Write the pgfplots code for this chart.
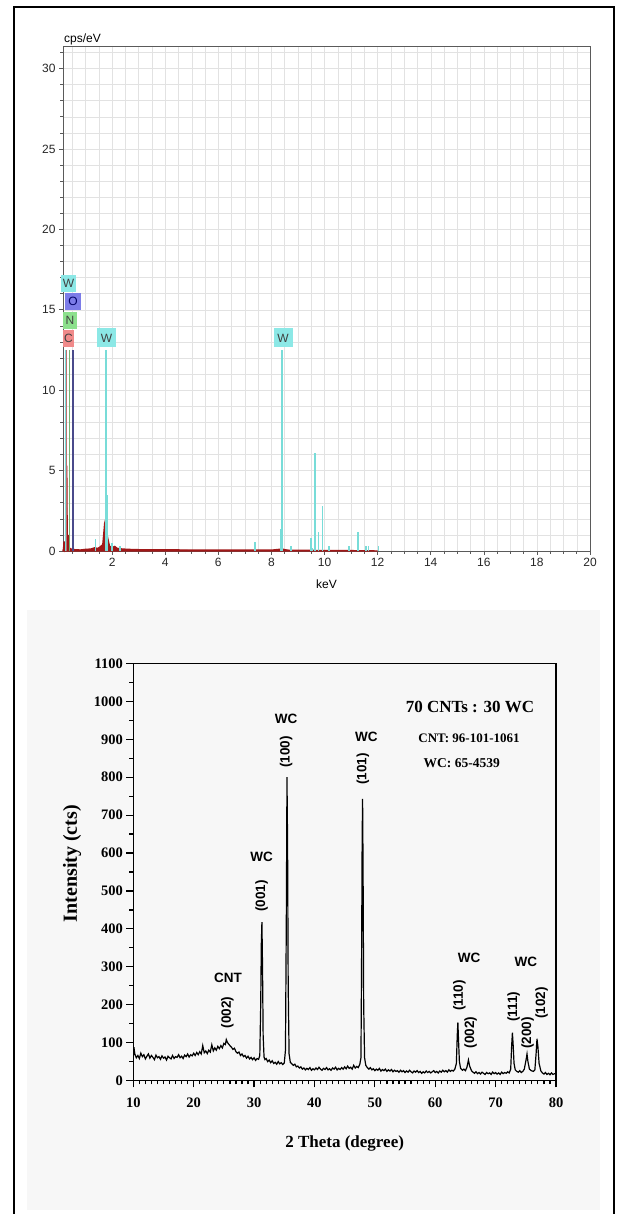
\documentclass[border=0pt]{standalone}
\usepackage{fontspec}
\setmainfont{Liberation Serif}
\newfontfamily\arialfont{Liberation Sans}
\usepackage{pgfplots}
\usepackage{pgfplotstable}
\pgfplotsset{compat=1.18}

\definecolor{wcyan}{HTML}{78DCD8}
\definecolor{wbox}{HTML}{8CE8E6}
\definecolor{obox}{HTML}{7C7CE8}
\definecolor{nbox}{HTML}{8CE08C}
\definecolor{cbox}{HTML}{F08A8A}
\definecolor{specred}{HTML}{A01818}
\definecolor{gridgray}{HTML}{E2E2E2}
\definecolor{axgray}{HTML}{5A5A5A}

% XRD pattern, 2theta vs counts
\pgfplotstableread{
x y
10.00 62
10.10 88
10.25 70
10.50 60
10.75 66
11.00 58
11.25 72
11.50 63
11.75 68
12.00 57
12.25 64
12.50 70
12.75 59
13.00 66
13.25 61
13.50 55
13.75 67
14.00 60
14.25 63
14.50 56
14.75 65
15.00 59
15.25 62
15.50 54
15.75 64
16.00 60
16.25 57
16.50 66
16.75 58
17.00 63
17.25 61
17.50 68
17.75 60
18.00 64
18.25 58
18.50 67
18.75 63
19.00 70
19.25 62
19.50 68
19.75 65
20.00 72
20.25 66
20.50 74
20.75 68
21.00 76
21.25 70
21.50 92
21.75 73
22.00 78
22.25 71
22.50 80
22.75 75
23.00 94
23.25 78
23.50 86
23.75 80
24.00 90
24.25 84
24.50 92
24.75 86
25.00 98
25.25 95
25.40 108
25.60 100
25.80 96
26.00 92
26.25 88
26.50 82
26.75 85
27.00 76
27.25 72
27.50 75
27.75 66
28.00 70
28.25 63
28.50 66
28.75 59
29.00 64
29.25 57
29.50 61
29.75 55
30.00 60
30.25 53
30.50 58
30.75 56
30.95 66
31.10 200
31.20 360
31.30 418
31.40 300
31.50 120
31.65 62
31.80 55
32.00 58
32.25 50
32.50 54
32.75 47
33.00 52
33.25 45
33.50 48
33.75 43
34.00 50
34.25 44
34.50 47
34.75 42
35.00 46
35.20 80
35.35 450
35.45 800
35.55 620
35.65 250
35.80 70
36.00 48
36.25 44
36.50 40
36.75 43
37.00 36
37.25 38
37.50 33
37.75 36
38.00 30
38.25 33
38.50 28
38.75 32
39.00 29
39.25 34
39.50 27
39.75 31
40.00 28
40.25 33
40.50 29
40.75 35
41.00 30
41.25 27
41.50 32
41.75 29
42.00 34
42.25 28
42.50 31
42.75 27
43.00 33
43.25 30
43.50 35
43.75 28
44.00 32
44.25 29
44.50 34
44.75 30
45.00 36
45.25 31
45.50 38
45.75 32
46.00 35
46.25 30
46.50 40
46.75 33
47.00 37
47.25 34
47.50 42
47.70 60
47.80 300
47.90 640
47.97 743
48.05 560
48.15 200
48.30 60
48.50 40
48.75 34
49.00 30
49.25 34
49.50 28
49.75 31
50.00 26
50.25 30
50.50 27
50.75 32
51.00 25
51.25 29
51.50 26
51.75 30
52.00 24
52.25 28
52.50 25
52.75 29
53.00 23
53.25 27
53.50 24
53.75 26
54.00 22
54.25 27
54.50 23
54.75 26
55.00 21
55.25 25
55.50 22
55.75 27
56.00 23
56.25 20
56.50 25
56.75 22
57.00 26
57.25 21
57.50 24
57.75 19
58.00 23
58.25 20
58.50 25
58.75 21
59.00 24
59.25 20
59.50 23
59.75 26
60.00 21
60.25 24
60.50 20
60.75 25
61.00 22
61.25 27
61.50 23
61.75 26
62.00 22
62.25 28
62.50 24
62.75 27
63.00 25
63.25 30
63.50 45
63.65 120
63.75 153
63.85 110
64.00 50
64.20 32
64.50 27
64.75 30
65.00 26
65.25 35
65.50 54
65.70 38
66.00 26
66.25 22
66.50 19
66.75 23
67.00 18
67.25 21
67.50 17
67.75 22
68.00 19
68.25 16
68.50 21
68.75 18
69.00 20
69.25 16
69.50 22
69.75 18
70.00 21
70.25 17
70.50 20
70.75 16
71.00 22
71.25 18
71.50 21
71.75 19
72.00 23
72.25 20
72.50 30
72.65 90
72.78 126
72.90 95
73.05 45
73.25 28
73.50 24
73.75 22
74.00 26
74.25 21
74.50 24
74.75 30
75.05 55
75.20 70
75.35 50
75.60 30
75.90 26
76.25 24
76.50 28
76.70 70
76.85 110
77.00 90
77.20 45
77.50 25
77.75 20
78.00 17
78.25 21
78.50 16
78.75 19
79.00 15
79.25 20
79.50 16
79.75 18
80.00 17
}\xrd

\newcommand\edsfont{\arialfont\fontsize{12}{12}\selectfont}
\newcommand\pk{\arialfont\bfseries\fontsize{13.5}{13.5}\selectfont}

\begin{document}
\begin{tikzpicture}[x=1pt,y=1pt]
\path[use as bounding box] (0pt,0pt) rectangle (618pt,1214pt);
\fill[black!3] (27pt,4pt) rectangle (600pt,604pt);
\draw[line width=2pt] (14pt,0pt) -- (14pt,1207pt) -- (614pt,1207pt) -- (614pt,0pt);

% ---------- EDS spectrum ----------
\begin{axis}[
    at={(63pt,663pt)}, anchor=south west,
    scale only axis, width=527pt, height=505pt,
    xmin=0.15, xmax=20, ymin=0, ymax=31.4,
    xtick={2,4,...,20}, minor xtick={0.5,1,...,19.5},
    ytick={0,5,...,30}, minor ytick={1,2,...,31},
    tick pos=left, tick align=outside,
    major tick length=4pt, minor tick length=3pt,
    grid=both, major grid style={gridgray}, minor grid style={gridgray},
    tick style={axgray, line width=0.6pt},
    axis line style={axgray, line width=0.8pt},
    tick label style={font=\edsfont, text=black!85},
    /pgf/number format/assume math mode=true,
    xlabel={keV}, xlabel style={font=\edsfont, at={(axis description cs:0.5,-0.065)}, anchor=center},
    clip=false,
]
% spectrum (dark red)
\addplot[specred, line width=1.4pt, fill=specred] coordinates {
 (0.15,0.05) (0.17,0.1) (0.19,0.6) (0.21,0.1) (0.26,0.3) (0.29,5.3) (0.31,0.4) (0.34,1.0) (0.37,0.2)
 (0.45,0.12) (0.6,0.08) (0.8,0.06) (1.0,0.1) (1.2,0.12) (1.35,0.2) (1.45,0.15) (1.55,0.25)
 (1.65,0.4) (1.72,1.7) (1.77,2.05) (1.82,0.9) (1.9,0.3) (2.0,0.22) (2.1,0.28) (2.2,0.15)
 (2.4,0.12) (2.6,0.1) (3.0,0.08) (4.0,0.07) (5.0,0.06) (6.0,0.06) (7.0,0.05) (8.0,0.05)
 (8.4,0.12) (8.6,0.05) (9.0,0.04) (10.0,0.03) (11.0,0.02) (12.0,0.0)
} \closedcycle;
% W peaks (cyan)
\addplot[ycomb, wcyan, line width=1.6pt] coordinates {
 (1.38,0.75) (1.83,3.5) (2.0,0.5) (2.3,0.3) (7.38,0.55) (8.35,1.35) (8.74,0.3)
 (9.49,0.8) (9.55,0.2) (9.65,6.1) (9.78,1.2) (9.93,2.8) (10.17,0.3) (10.93,0.3)
 (11.26,1.15) (11.57,0.3) (11.65,0.3) (12.03,0.3)
};
% element marker lines
\addplot[ycomb, wcyan, line width=1.4pt] coordinates {(0.24,12.5) (1.775,12.5) (8.396,12.5)};
\addplot[ycomb, cbox!80!black, line width=1.1pt] coordinates {(0.277,12.5)};
\addplot[ycomb, nbox!80!black, line width=1.1pt] coordinates {(0.392,12.5)};
\addplot[ycomb, obox!60!black, line width=1.1pt] coordinates {(0.525,12.5)};
\tikzset{el/.style={font=\edsfont, inner sep=1.5pt, minimum height=17pt, text=black!75}}
\node[el, fill=wbox, minimum width=11pt] at (axis cs:0.36,16.65) {W};
\node[el, fill=obox, minimum width=16pt, text=blue!40!black] at (axis cs:0.53,15.5) {O};
\node[el, fill=nbox, minimum width=14pt] at (axis cs:0.41,14.35) {N};
\node[el, fill=cbox, minimum width=11pt] at (axis cs:0.36,13.2) {C};
\node[el, fill=wbox, minimum width=19pt, minimum height=19pt] at (axis cs:1.79,13.25) {W};
\node[el, fill=wbox, minimum width=19pt, minimum height=19pt] at (axis cs:8.44,13.25) {W};
\node[font=\edsfont, anchor=south west, inner sep=1pt] at (rel axis cs:0,1) {cps/eV};
\end{axis}

% ---------- XRD pattern ----------
\begin{axis}[
    at={(133.3pt,133.5pt)}, anchor=south west,
    scale only axis, width=422.7pt, height=417pt,
    xmin=10, xmax=80, ymin=0, ymax=1100,
    xtick={10,20,...,80}, minor x tick num=9,
    ytick={0,100,...,1100}, minor y tick num=1,
    tick pos=left, tick align=outside,
    major tick length=7pt, minor tick length=4pt,
    axis line style={line width=1.5pt},
    tick style={black, line width=1.2pt},
    tick label style={font=\fontsize{14.5}{14.5}\selectfont\bfseries},
    xticklabel style={yshift=-7pt},
    /pgf/number format/assume math mode=true,
    /pgf/number format/1000 sep={},
    xlabel={2 Theta (degree)}, ylabel={Intensity (cts)},
    xlabel style={font=\fontsize{17}{17}\selectfont\bfseries, at={(axis description cs:0.5,-0.15)}, anchor=center},
    ylabel style={font=\fontsize{20}{20}\selectfont\bfseries, at={(axis description cs:-0.145,0.52)}, anchor=center},
]
\addplot[black, line width=1.2pt] table[x=x, y=y] {\xrd};
\node[font=\pk] at (axis cs:25.7,271) {CNT};
\node[font=\pk, rotate=90] at (axis cs:25.6,180) {(002)};
\node[font=\pk] at (axis cs:31.25,589) {WC};
\node[font=\pk, rotate=90] at (axis cs:31.25,487) {(001)};
\node[font=\pk] at (axis cs:35.3,955) {WC};
\node[font=\pk, rotate=90] at (axis cs:35.3,867) {(100)};
\node[font=\pk] at (axis cs:48.6,907) {WC};
\node[font=\pk, rotate=90] at (axis cs:48.0,822) {(101)};
\node[font=\pk] at (axis cs:65.6,324) {WC};
\node[font=\pk, rotate=90] at (axis cs:64.0,224) {(110)};
\node[font=\pk, rotate=90] at (axis cs:65.85,127) {(002)};
\node[font=\pk] at (axis cs:75.0,312) {WC};
\node[font=\pk, rotate=90] at (axis cs:73.0,195) {(111)};
\node[font=\pk, rotate=90] at (axis cs:75.3,125) {(200)};
\node[font=\pk, rotate=90] at (axis cs:77.6,204) {(102)};
\node[font=\fontsize{17}{17}\selectfont\bfseries] at (axis cs:65.75,986) {70 CNTs : 30 WC};
\node[font=\fontsize{13}{13}\selectfont\bfseries] at (axis cs:65.6,902) {CNT: 96-101-1061};
\node[font=\fontsize{13.5}{13.5}\selectfont\bfseries] at (axis cs:64.4,837) {WC: 65-4539};
\end{axis}
\end{tikzpicture}
\end{document}
